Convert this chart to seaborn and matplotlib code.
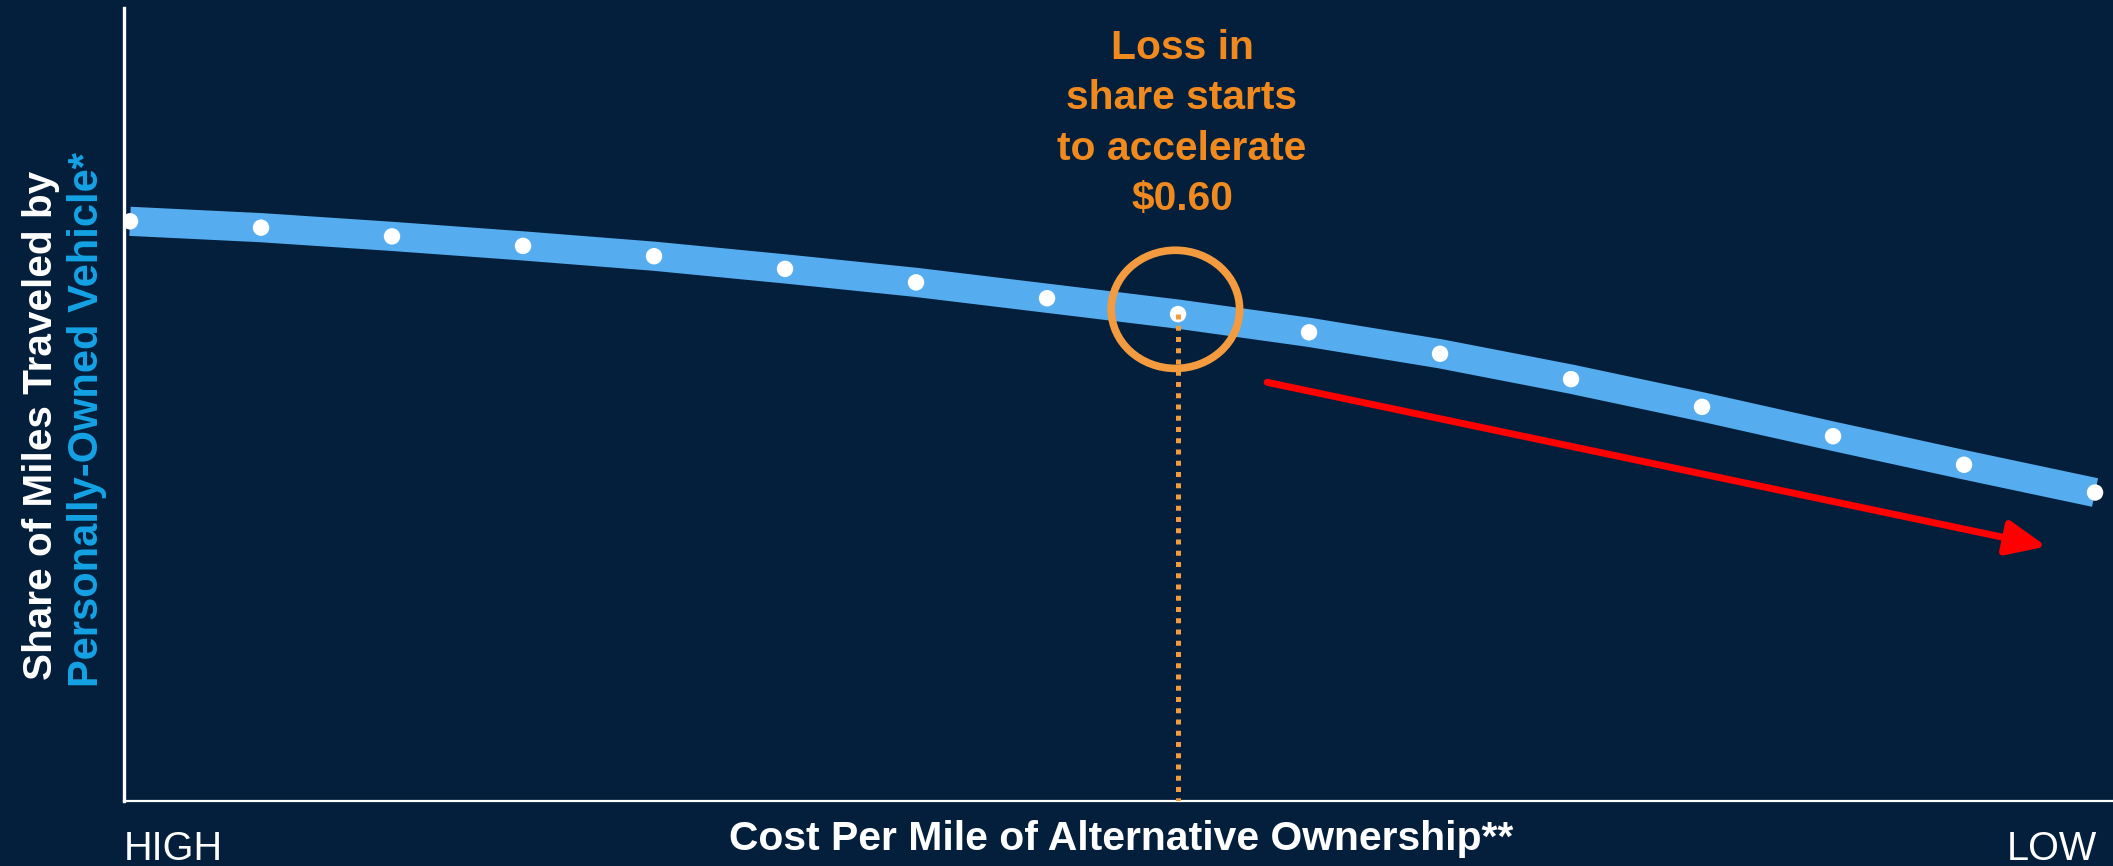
import numpy as np
import pandas as pd
import matplotlib
matplotlib.use("Agg")
import matplotlib.pyplot as plt
from matplotlib.patches import Ellipse
import seaborn as sns

# Cost-per-mile steps, from HIGH (left) to LOW (right)
cost_step = list(range(16))
# Share of miles traveled by personally-owned vehicle (relative scale)
share = [73.1, 72.3, 71.2, 70.0, 68.7, 67.1, 65.4, 63.4,
         61.4, 59.1, 56.4, 53.2, 49.7, 46.0, 42.4, 38.9]

inflection_step = 8
inflection_label = "Loss in\nshare starts\nto accelerate\n$0.60"
trend_start = (8.68, 52.8)
trend_end = (14.63, 32.1)

x_label = "Cost Per Mile of Alternative Ownership**"
y_label_top = "Share of Miles Traveled by"
y_label_bottom = "Personally-Owned Vehicle*"
x_end_labels = ["HIGH", "LOW"]

BG = "#041F3B"
BAND = "#55ADEF"
ORANGE_TXT = "#F08A1E"
ORANGE_RING = "#F39B3E"
CYAN = "#14A3E6"

sns.set_style("white", rc={"axes.facecolor": BG, "figure.facecolor": BG})
plt.rcParams["font.family"] = ["Liberation Sans", "DejaVu Sans"]

df = pd.DataFrame({"step": cost_step, "share": share})

fig = plt.figure(figsize=(21.13, 8.66), dpi=100)
ax = fig.add_axes([124 / 2113, 65 / 866, 1 - 124 / 2113, (801 - 8) / 866])
ax.set_facecolor(BG)

sns.lineplot(data=df, x="step", y="share", ax=ax, color=BAND, linewidth=21,
             solid_capstyle="butt", solid_joinstyle="round", zorder=2)
sns.scatterplot(data=df, x="step", y="share", ax=ax, color="white", s=140,
                edgecolor="none", zorder=3)

y_inf = share[cost_step.index(inflection_step)]

# dotted drop line from the inflection point to the axis
ax.plot([inflection_step, inflection_step], [y_inf, 0], color=ORANGE_RING,
        linewidth=3.6, linestyle=(0, (1, 1.25)), dash_capstyle="butt", zorder=4)

# ring around the inflection point
ax.add_patch(Ellipse((inflection_step - 0.02, y_inf + 0.6), width=0.98,
                     height=14.9, facecolor="none", edgecolor=ORANGE_RING,
                     linewidth=5.5, zorder=5))

ax.text(inflection_step + 0.03, 97.4, inflection_label, color=ORANGE_TXT,
        fontsize=29.3, fontweight="bold", ha="center", va="top",
        linespacing=1.42, zorder=6)

# trend arrow
ax.annotate("", xy=trend_end, xytext=trend_start,
            arrowprops=dict(arrowstyle="-|>,head_length=2.4,head_width=1.05",
                            mutation_scale=10, color="#FF0000", lw=5,
                            shrinkA=0, shrinkB=0), zorder=6)

ax.set_xlim(-0.046, 15.137)
ax.set_ylim(0, 100)
ax.set_xticks([])
ax.set_yticks([])
ax.set_xlabel("")
ax.set_ylabel("")
for side in ("top", "right"):
    ax.spines[side].set_visible(False)
ax.spines["left"].set_color("white")
ax.spines["left"].set_linewidth(2.4)
ax.spines["bottom"].set_color("white")
ax.spines["bottom"].set_linewidth(1.6)

fig.text(1121 / 2113, 1 - 839 / 866, x_label, color="white", fontsize=29.4,
         fontweight="bold", ha="center", va="center")
fig.text(124 / 2113, 1 - 849 / 866, x_end_labels[0], color="white",
         fontsize=28.5, ha="left", va="center")
fig.text(2097 / 2113, 1 - 849 / 866, x_end_labels[1], color="white",
         fontsize=28.5, ha="right", va="center")

fig.text(41 / 2113, 1 - 425 / 866, y_label_top, color="white", fontsize=29.2,
         fontweight="bold", rotation=90, ha="center", va="center")
fig.text(87 / 2113, 1 - 420 / 866, y_label_bottom, color=CYAN, fontsize=30,
         fontweight="bold", rotation=90, ha="center", va="center")

fig.savefig("out.png", dpi=100, facecolor=BG)
